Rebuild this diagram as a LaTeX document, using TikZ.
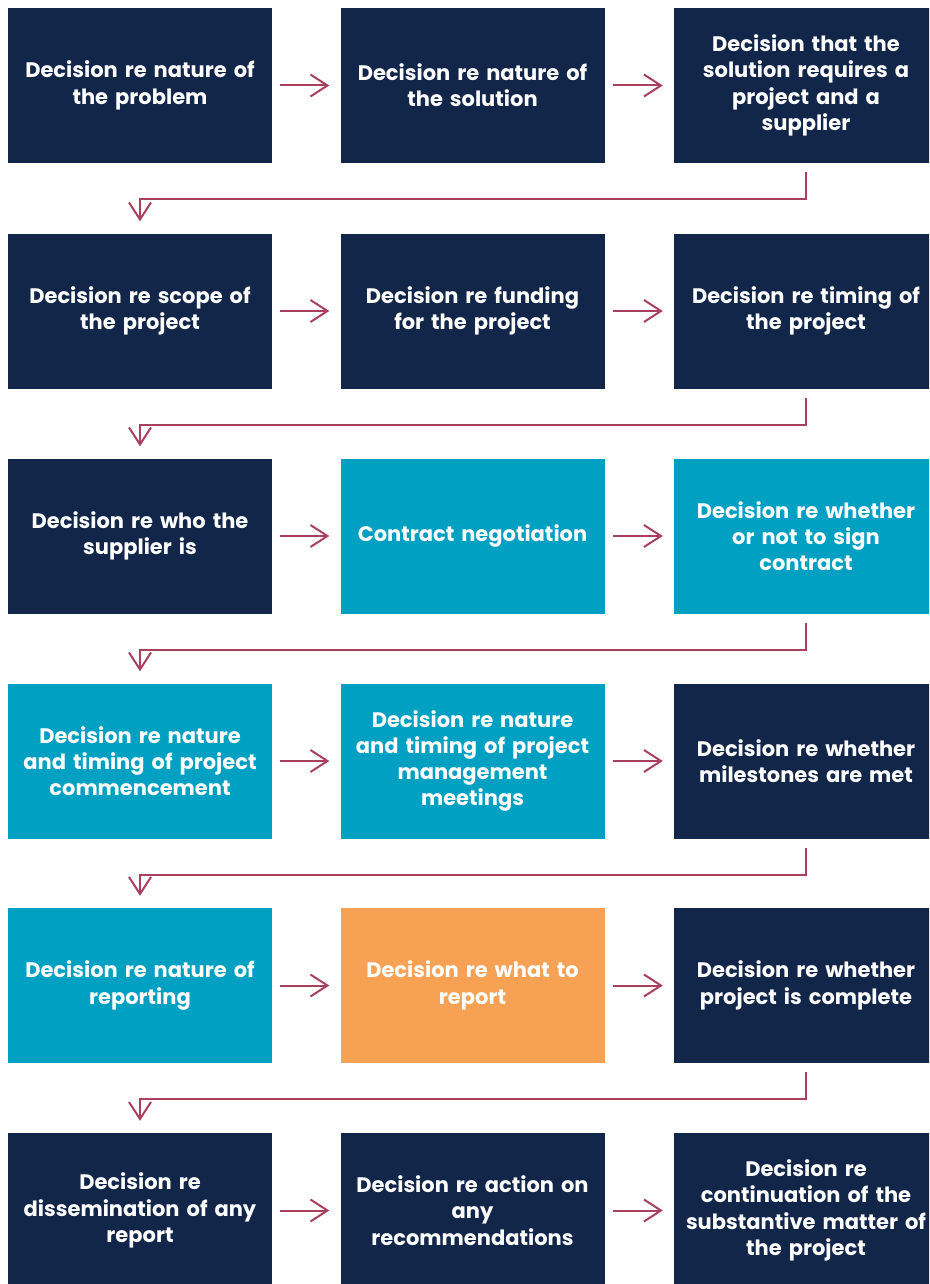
\documentclass[tikz,border=0pt]{standalone}
\usepackage{fontspec}
\setmainfont{Poppins}
\usetikzlibrary{arrows.meta,positioning}
\definecolor{navy}{HTML}{12264A}
\definecolor{teal}{HTML}{00A0C3}
\definecolor{orng}{HTML}{F7A154}
\definecolor{arrc}{HTML}{A8405E}
\tikzset{
  box/.style={rectangle, minimum width=264pt, minimum height=155pt, inner sep=0pt,
    text width=262pt, align=center, text=white,
    font=\fontsize{21}{26.3}\selectfont\bfseries,
    execute at begin node={\lineskiplimit=-100pt\relax\lineskip=0pt\relax}},
  nbox/.style={box, fill=navy},
  tbox/.style={box, fill=teal},
  obox/.style={box, fill=orng},
  arr/.style={draw=arrc, line width=2pt, -{Straight Barb[length=17pt,width=22pt,line width=2pt]}},
}
\begin{document}
\begin{tikzpicture}[x=1pt,y=-1pt]
\useasboundingbox (0,0) rectangle (929,1284);
\clip (0,0) rectangle (929,1284);
% row 1
\node[nbox] (n1) at (140,85.5) {Decision re nature of\\the problem};
\node[nbox] (n2) at (472.5,85.5) {Decision re nature of\\the solution};
\node[nbox] (n3) at (806,85.5) {Decision that the\\solution requires a\\project and a\\supplier};
% row 2
\node[nbox] (n4) at (140,311) {Decision re scope of\\the project};
\node[nbox] (n5) at (472.5,311) {Decision re funding\\for the project};
\node[nbox] (n6) at (806,311) {Decision re timing of\\the project};
% row 3
\node[nbox] (n7) at (140,536) {Decision re who the\\supplier is};
\node[tbox] (n8) at (472.5,536) {Contract negotiation};
\node[tbox] (n9) at (806,536) {Decision re whether\\or not to sign\\contract};
% row 4
\node[tbox] (n10) at (140,761) {Decision re nature\\and timing of project\\commencement};
\node[tbox] (n11) at (472.5,761) {Decision re nature\\and timing of project\\management\\meetings};
\node[nbox] (n12) at (806,761) {Decision re whether\\milestones are met};
% row 5
\node[tbox] (n13) at (140,985.5) {Decision re nature of\\reporting};
\node[obox] (n14) at (472.5,985.5) {Decision re what to\\report};
\node[nbox] (n15) at (806,985.5) {Decision re whether\\project is complete};
% row 6
\node[nbox] (n16) at (140,1210.5) {Decision re\\dissemination of any\\report};
\node[nbox] (n17) at (472.5,1210.5) {Decision re action on\\any\\recommendations};
\node[nbox] (n18) at (806,1210.5) {Decision re\\continuation of the\\substantive matter of\\the project};
% horizontal arrows
\foreach \a/\b in {n1/n2,n2/n3,n4/n5,n5/n6,n7/n8,n8/n9,n10/n11,n11/n12,n13/n14,n14/n15,n16/n17,n17/n18}
  \draw[arr] ([xshift=8pt]\a.east) -- ([xshift=-11pt]\b.west);
% row-return arrows
\foreach \a/\b in {n3/n4,n6/n7,n9/n10,n12/n13,n15/n16}
  \draw[arr] ([yshift=-9pt]\a.south) -- ([yshift=-36pt]\a.south) -| ([yshift=12pt]\b.north);
\end{tikzpicture}
\end{document}
